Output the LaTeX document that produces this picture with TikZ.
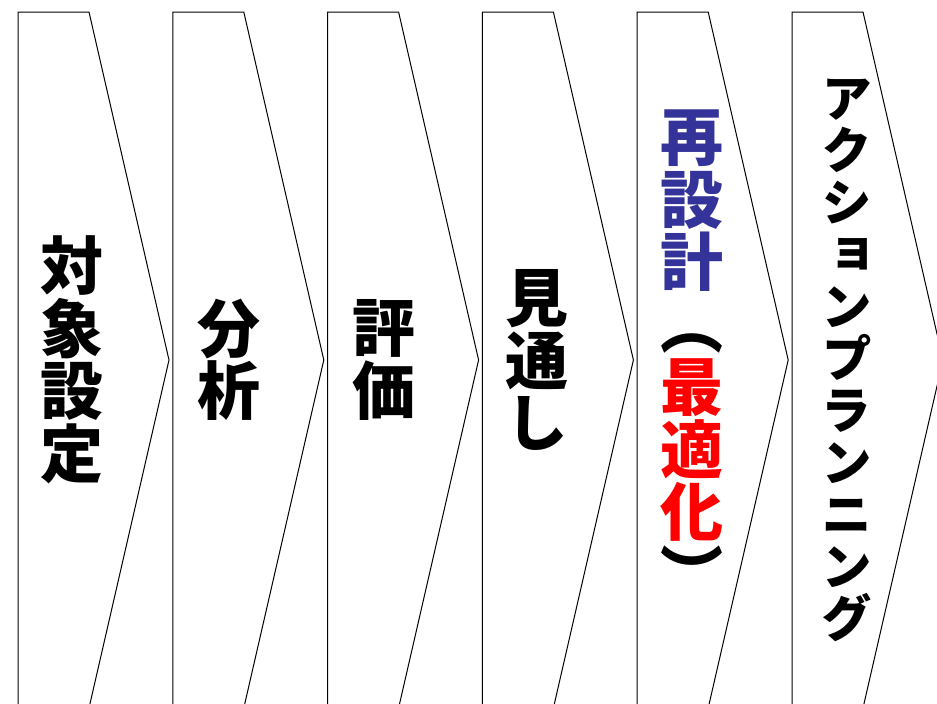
\documentclass[tikz,border=0pt]{standalone}
\usepackage{fontspec}
\newfontfamily\jp{Noto Sans CJK JP}[RawFeature=+vert]
\definecolor{jblue}{RGB}{51,51,153}
\definecolor{jred}{RGB}{255,0,0}
\begin{document}
\begin{tikzpicture}[x=1pt,y=-1pt,
  chev/.style={draw=black, line width=1pt, fill=white, line join=miter},
  lbl/.style={align=center, inner sep=0pt, font=\jp\bfseries\fontsize{63}{62.5}\selectfont},
  lblsmall/.style={align=center, inner sep=0pt, font=\jp\bfseries\fontsize{51}{52}\selectfont}]
\useasboundingbox (0,0) rectangle (937,704);
\foreach \L in {18,172.8,327.6,482.4,637.2,792} {
  \draw[chev] (\L,12) -- (\L+71,12) -- (\L+151,360) -- (\L+71,708) -- (\L,708) -- cycle;
}
\node[lbl] (t1) at (72,360) {対\\象\\設\\定};
\node[lbl] (t2) at (229,360) {分\\析};
\node[lbl] (t3) at (384,360) {評\\価};
\node[lbl] (t4) at (537,360) {見\\通\\し};
\node[lbl] (t5) at (692,354) {\textcolor{jblue}{再}\\\textcolor{jblue}{設}\\\textcolor{jblue}{計}\\（\\\textcolor{jred}{最}\\\textcolor{jred}{適}\\\textcolor{jred}{化}\\）};
\node[lblsmall] (t6) at (847,360) {ア\\ク\\シ\\ョ\\ン\\プ\\ラ\\ン\\ニ\\ン\\グ};
\end{tikzpicture}
\end{document}
